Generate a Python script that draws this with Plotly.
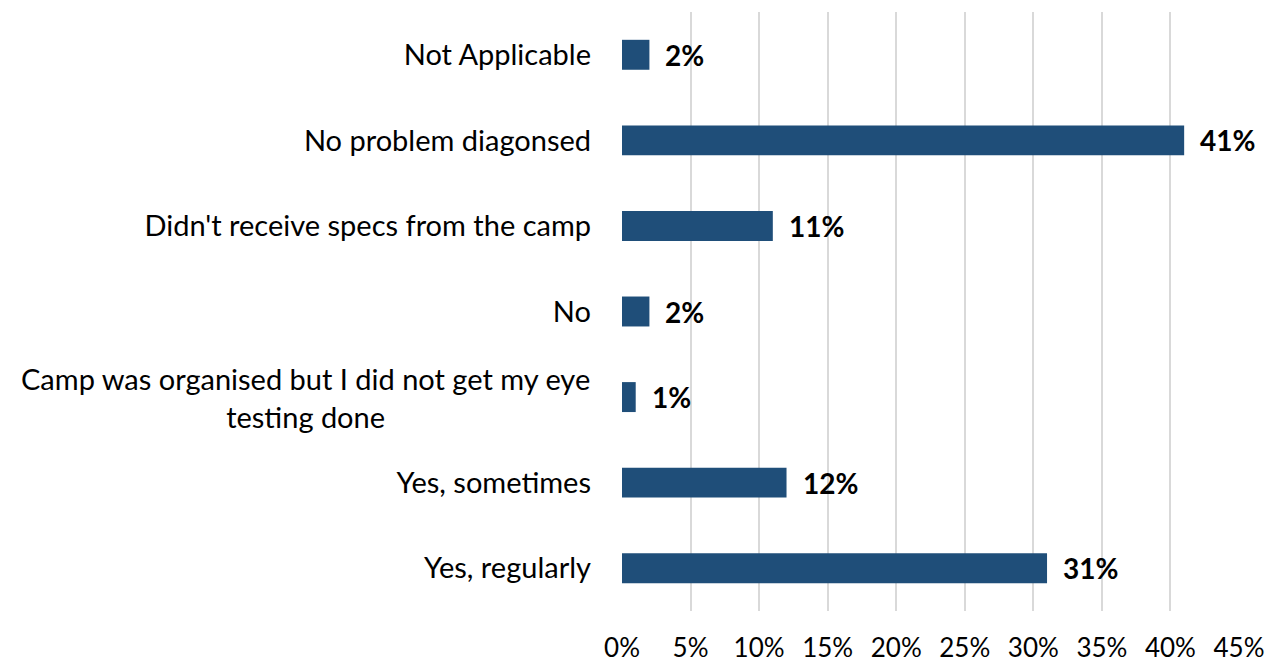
import plotly.graph_objects as go

categories = [
    "Yes, regularly",
    "Yes, sometimes",
    "Camp was organised but I did not get my eye<br>testing done",
    "No",
    "Didn't receive specs from the camp",
    "No problem diagonsed",
    "Not Applicable",
]
values = [31, 12, 1, 2, 11, 41, 2]
x_ticks = [0, 5, 10, 15, 20, 25, 30, 35, 40, 45]
x_tick_labels = [f"{t}%" for t in x_ticks]

FONT = "Lato"
BAR_COLOR = "#1F4E79"
CAT_SIZE = 29
VAL_SIZE = 28
TICK_SIZE = 26

fig = go.Figure()
fig.add_trace(go.Bar(
    x=values,
    y=categories,
    orientation="h",
    marker=dict(color=BAR_COLOR, line=dict(width=0)),
    width=0.35,
    hoverinfo="x+y",
))

multi = [c for c in categories if "<br>" in c]
tick_text = ["" if "<br>" in c else c for c in categories]

annotations = []
for c in multi:
    annotations.append(dict(
        x=0, xref="paper", y=c, yref="y",
        text=c, showarrow=False, xanchor="right", yanchor="middle",
        align="center", xshift=-30,
        font=dict(family=FONT, size=CAT_SIZE, color="#000000"),
    ))
for c, v in zip(categories, values):
    annotations.append(dict(
        x=v, xref="x", y=c, yref="y",
        text=f"<b>{v}%</b>", showarrow=False, xanchor="left", yanchor="middle",
        xshift=14,
        font=dict(family=FONT, size=VAL_SIZE, color="#000000"),
    ))

fig.update_layout(
    width=1275, height=666,
    margin=dict(l=622, r=36, t=12, b=55, autoexpand=False),
    paper_bgcolor="white", plot_bgcolor="white",
    showlegend=False,
    bargap=0.65,
    font=dict(family=FONT, size=CAT_SIZE, color="#000000"),
    annotations=annotations,
    xaxis=dict(
        range=[0, 45],
        tickvals=x_ticks, ticktext=x_tick_labels,
        showgrid=True, gridcolor="#D9D9D9", gridwidth=2,
        zeroline=False, showline=False,
        automargin=False,
        ticklabelstandoff=19,
        tickfont=dict(family=FONT, size=TICK_SIZE, color="#000000"),
    ),
    yaxis=dict(
        categoryorder="array", categoryarray=categories,
        tickvals=categories, ticktext=tick_text,
        showgrid=False, zeroline=False, showline=False,
        automargin=False,
        ticklabelstandoff=30,
        tickfont=dict(family=FONT, size=CAT_SIZE, color="#000000"),
    ),
)

fig.write_html(
    "out.html",
    config={"displayModeBar": False},
    post_script="document.body.style.margin='0';document.body.style.overflow='hidden';",
)
